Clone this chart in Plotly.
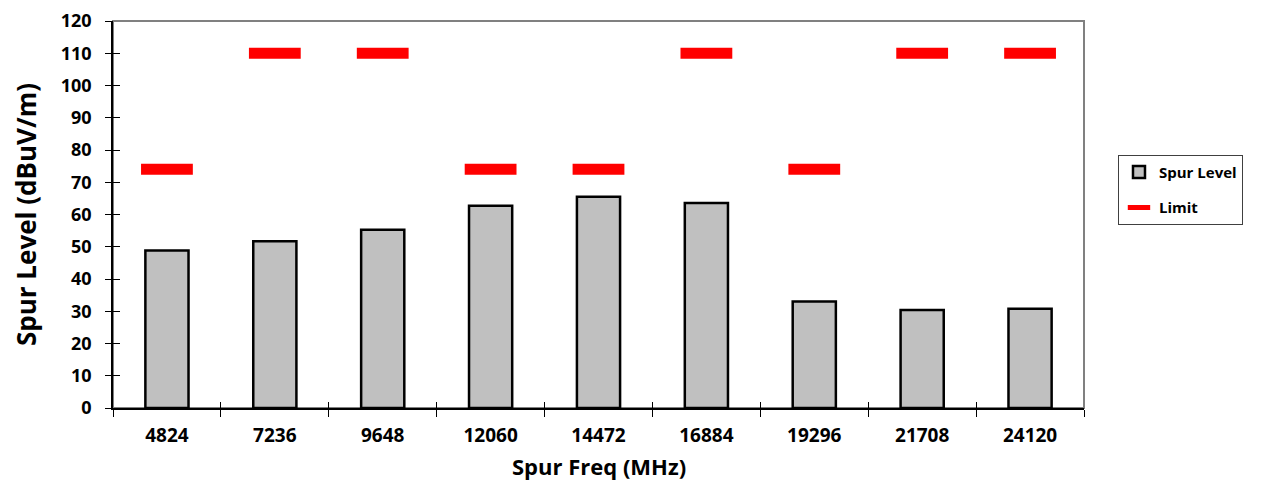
from plotly import graph_objects

freqs = ["4824", "7236", "9648", "12060", "14472", "16884", "19296", "21708", "24120"]
spur_level = [48.8, 51.7, 55.3, 62.7, 65.5, 63.6, 33.0, 30.4, 30.8]
limit = [74, 110, 110, 74, 74, 110, 74, 110, 110]

y_ticks = list(range(0, 121, 10))

font_family = "Open Sans, Lato, Liberation Sans, sans-serif"

fig = graph_objects.Figure()

fig.add_trace(graph_objects.Bar(
    x=freqs,
    y=spur_level,
    name="<b>Spur Level</b>",
    legendgroup="spur",
    width=0.4,
    marker=dict(color="#c0c0c0", line=dict(color="black", width=2.5)),
))

fig.add_trace(graph_objects.Scatter(
    x=freqs,
    y=limit,
    name="<b>Limit</b>",
    legendgroup="limit",
    mode="markers",
    marker=dict(symbol="line-ew-open", size=37, color="red",
                line=dict(color="red", width=11)),
))

# inside half of the crossing ticks
fig.add_trace(graph_objects.Scatter(
    x=freqs, y=spur_level, xaxis="x2", yaxis="y2",
    mode="markers", marker=dict(opacity=0), showlegend=False, hoverinfo="skip",
))

fig.update_layout(
    width=1247,
    height=475,
    margin=dict(l=105, r=169, t=13, b=75),
    plot_bgcolor="white",
    paper_bgcolor="white",
    font=dict(family=font_family, color="black"),
    showlegend=True,
    legend=dict(
        x=1.035, y=0.564, xanchor="left", yanchor="middle",
        bordercolor="#404040", borderwidth=1,
        font=dict(size=15, family=font_family, color="black"),
        itemwidth=30,
        tracegroupgap=13,
    ),
    xaxis=dict(
        type="category",
        range=[-0.5, 8.5],
        tickson="boundaries",
        ticks="outside", ticklen=7, tickcolor="black", tickwidth=1,
        ticklabelstandoff=9,
        automargin=False,
        showline=True, linecolor="black", linewidth=1.5,
        showgrid=False,
        tickfont=dict(size=19, family=font_family),
        tickprefix="<b>", ticksuffix="</b>",
    ),
    yaxis=dict(
        range=[0, 120],
        tickvals=y_ticks,
        ticktext=[f"<b>{v}</b>" for v in y_ticks],
        ticks="outside", ticklen=6, tickcolor="black", tickwidth=1,
        ticklabelstandoff=10,
        ticklabeloverflow="allow",
        automargin="left+right",
        showline=True, linecolor="black", linewidth=1.5,
        showgrid=False, zeroline=False,
        tickfont=dict(size=18, family=font_family),
        title=dict(text="<b>Spur Level (dBuV/m)</b>", font=dict(size=26, family=font_family), standoff=17),
    ),
    xaxis2=dict(
        type="category", overlaying="x", matches="x",
        tickson="boundaries", ticks="inside", ticklen=6, tickcolor="black",
        showticklabels=False, showgrid=False, showline=False,
    ),
    yaxis2=dict(
        overlaying="y", range=[0, 120], tickvals=y_ticks,
        ticks="inside", ticklen=7, tickcolor="black",
        showticklabels=False, showgrid=False, showline=False, zeroline=False,
    ),
    shapes=[dict(
        type="rect", xref="paper", yref="paper", x0=0, y0=0, x1=1, y1=1,
        line=dict(color="#808080", width=2), layer="below",
    )],
    annotations=[dict(
        text="<b>Spur Freq (MHz)</b>", xref="paper", yref="paper",
        x=0.5, y=0, xanchor="center", yanchor="middle", yshift=-58,
        showarrow=False, font=dict(size=22, family=font_family, color="black"),
    )],
)

fig.write_html("out.html")
